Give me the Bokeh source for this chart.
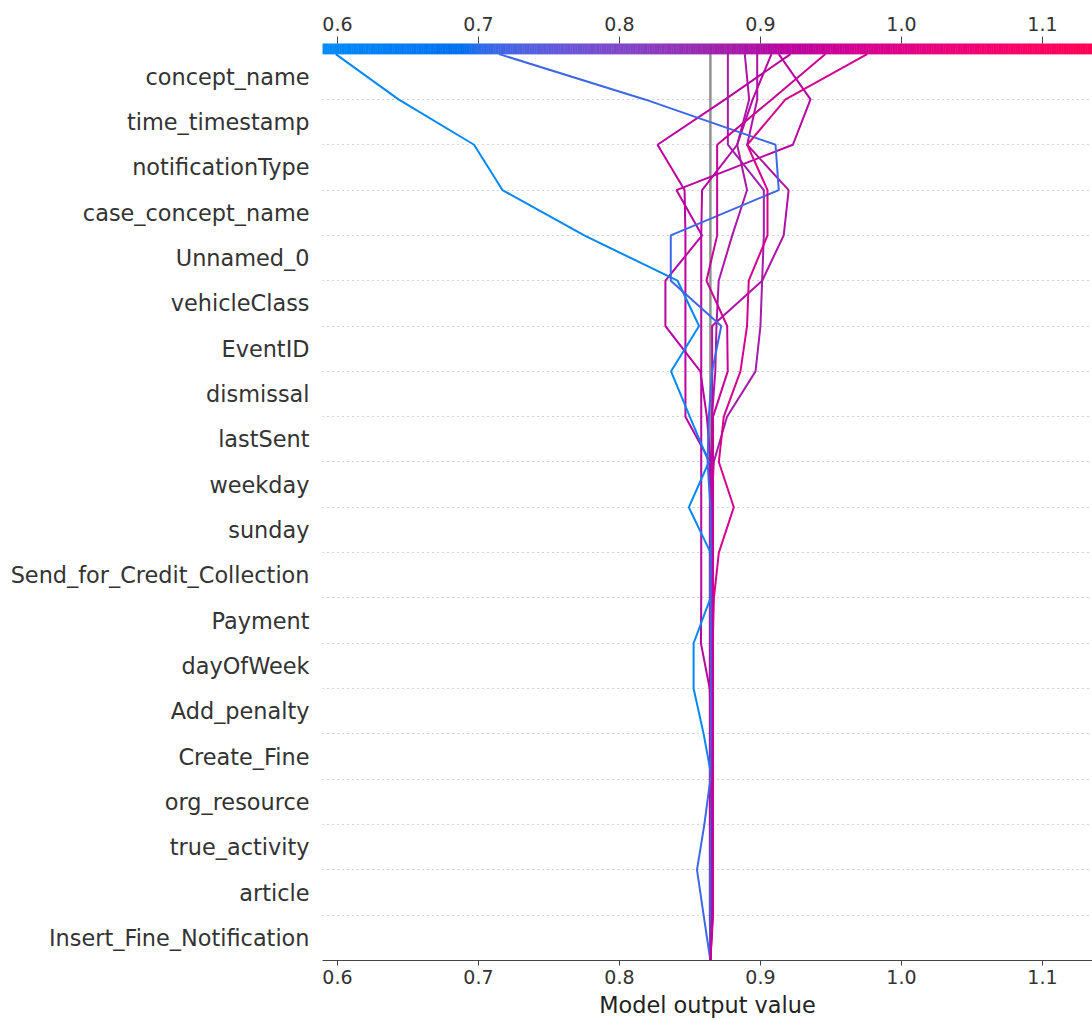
import math
import numpy as np
from bokeh.plotting import figure
from bokeh.models import Range1d, FixedTicker, LinearAxis, PrintfTickFormatter
from bokeh.embed import file_html
from bokeh.resources import INLINE

# ---------------- data ----------------
# features, listed from top to bottom of the decision plot
features = ["concept_name", "time_timestamp", "notificationType", "case_concept_name",
            "Unnamed_0", "vehicleClass", "EventID", "dismissal", "lastSent", "weekday",
            "sunday", "Send_for_Credit_Collection", "Payment", "dayOfWeek", "Add_penalty",
            "Create_Fine", "org_resource", "true_activity", "article", "Insert_Fine_Notification"]

base_value = 0.8645
x_ticks = [0.6, 0.7, 0.8, 0.9, 1.0, 1.1]
x_min, x_max = 0.5894, 1.1355         # visible axis range
color_low, color_high = 0.5894, 1.138  # colour-scale limits

# cumulative model output of each observation, from the bottom (base value, y=0)
# up through every feature to the final prediction (y=20)
obs_1 = [0.8645, 0.8645, 0.8645, 0.8648, 0.8656, 0.8597, 0.8526, 0.8526, 0.8646, 0.8646, 0.8492,
         0.8634, 0.8499, 0.8366, 0.8565, 0.8412, 0.7750, 0.7170, 0.6969, 0.6433, 0.5988]
obs_2 = [0.8645, 0.8597, 0.8550, 0.8602, 0.8645, 0.8648, 0.8650, 0.8648, 0.8646, 0.8648, 0.8645,
         0.8625, 0.8634, 0.8657, 0.8722, 0.8364, 0.8364, 0.9130, 0.9107, 0.8180, 0.7147]
obs_3 = [0.8645, 0.8641, 0.8641, 0.8641, 0.8641, 0.8641, 0.8641, 0.8641, 0.8641, 0.8641, 0.8641,
         0.8643, 0.8468, 0.8468, 0.8468, 0.8468, 0.8468, 0.8462, 0.8270, 0.8750, 0.9213]
obs_4 = [0.8645, 0.8646, 0.8646, 0.8646, 0.8646, 0.8646, 0.8646, 0.8646, 0.8646, 0.8646, 0.8646,
         0.8646, 0.8620, 0.8574, 0.8326, 0.8326, 0.8586, 0.8404, 0.9230, 0.9355, 0.9130]
obs_5 = [0.8645, 0.8649, 0.8649, 0.8649, 0.8649, 0.8649, 0.8640, 0.8578, 0.8580, 0.8580, 0.8580,
         0.8580, 0.8580, 0.8580, 0.8580, 0.8580, 0.8580, 0.8586, 0.8835, 0.8945, 0.9078]
obs_6 = [0.8645, 0.8652, 0.8652, 0.8652, 0.8652, 0.8652, 0.8652, 0.8652, 0.8652, 0.8652, 0.8652,
         0.8669, 0.8763, 0.8965, 0.9000, 0.9012, 0.9024, 0.9024, 0.8769, 0.8769, 0.8769]
obs_7 = [0.8645, 0.8655, 0.8655, 0.8655, 0.8655, 0.8655, 0.8655, 0.8655, 0.8655, 0.8655, 0.8655,
         0.8655, 0.8656, 0.8680, 0.8688, 0.8704, 0.8800, 0.8905, 0.8835, 0.8920, 0.8889]
obs_8 = [0.8645, 0.8658, 0.8658, 0.8658, 0.8658, 0.8658, 0.8658, 0.8658, 0.8658, 0.8658, 0.8658,
         0.8658, 0.8658, 0.8658, 0.8657, 0.9012, 0.9165, 0.9200, 0.8906, 0.8977, 0.8977]
obs_9 = [0.8645, 0.8661, 0.8661, 0.8661, 0.8661, 0.8661, 0.8661, 0.8661, 0.8670, 0.8705, 0.8811,
         0.8705, 0.8740, 0.8858, 0.8905, 0.8917, 0.9050, 0.9050, 0.8906, 0.9178, 0.9757]
obs_10 = [0.8645, 0.8664, 0.8664, 0.8664, 0.8664, 0.8664, 0.8664, 0.8664, 0.8664, 0.8664, 0.8664,
          0.8664, 0.8664, 0.8768, 0.8764, 0.8617, 0.8693, 0.8693, 0.8693, 0.9080, 0.9461]

observations = [obs_3, obs_4, obs_5, obs_6, obs_1, obs_7, obs_8, obs_2, obs_9, obs_10]

# ---------------- SHAP red-blue colour map (LCh interpolation) ----------------
def lch_to_rgb(L, C, h):
    a = C * math.cos(h)
    b = C * math.sin(h)
    fy = (L + 16) / 116
    fx = fy + a / 500
    fz = fy - b / 200

    def finv(t):
        return t ** 3 if t > 6 / 29 else 3 * (6 / 29) ** 2 * (t - 4 / 29)

    X = 0.95047 * finv(fx)
    Y = 1.0 * finv(fy)
    Z = 1.08883 * finv(fz)
    r = 3.2404542 * X - 1.5371385 * Y - 0.4985314 * Z
    g = -0.9692660 * X + 1.8760108 * Y + 0.0415560 * Z
    bl = 0.0556434 * X - 0.2040259 * Y + 1.0572252 * Z

    def gam(c):
        c = min(max(c, 0.0), 1.0)
        return 12.92 * c if c <= 0.0031308 else 1.055 * c ** (1 / 2.4) - 0.055

    return [gam(r), gam(g), gam(bl)]


nsteps = 100
l_vals = list(np.linspace(54.0, 40.0, nsteps // 2)) + list(np.linspace(40.0, 54.0, nsteps // 2))
c_vals = np.linspace(70.0, 90.0, nsteps)
h_vals = np.linspace(4.6588, 0.35470565 + 2 * np.pi, nsteps)
cmap_rgb = np.array([lch_to_rgb(l, c, h) for l, c, h in zip(l_vals, c_vals, h_vals)])
cmap_pos = np.linspace(0, 1, nsteps)


def cmap(t):
    t = min(max(t, 0.0), 1.0)
    r = np.interp(t, cmap_pos, cmap_rgb[:, 0])
    g = np.interp(t, cmap_pos, cmap_rgb[:, 1])
    b = np.interp(t, cmap_pos, cmap_rgb[:, 2])
    return "#%02x%02x%02x" % (int(round(r * 255)), int(round(g * 255)), int(round(b * 255)))


def value_color(v):
    return cmap((v - color_low) / (color_high - color_low))


# ---------------- figure ----------------
n = len(features)
cb_h = 0.234  # colour bar thickness in row units

FONT = "DejaVu Sans"
p = figure(width=1092, height=1020,
           x_range=Range1d(x_min, x_max), y_range=Range1d(0, n + cb_h),
           output_backend="svg", toolbar_location=None,
           min_border_left=322, min_border_right=0, min_border_top=43, min_border_bottom=0)
p.outline_line_color = None
p.background_fill_color = "white"
p.border_fill_color = "white"

p.xgrid.visible = False
p.ygrid.ticker = FixedTicker(ticks=list(range(1, n)))
p.ygrid.grid_line_color = "#a8a8a8"
p.ygrid.grid_line_dash = "1 4"
p.ygrid.grid_line_width = 1.2

# y axis with feature names
yax = p.yaxis[0]
yax.ticker = FixedTicker(ticks=[i + 0.5 for i in range(n)])
yax.major_label_overrides = {i + 0.5: features[n - 1 - i] for i in range(n)}
yax.axis_line_color = None
yax.major_tick_line_color = None
yax.minor_tick_line_color = None
yax.major_label_text_font = FONT
yax.major_label_text_font_size = "22.4px"
yax.major_label_text_color = "#333333"
yax.major_label_standoff = 7

# bottom x axis
xax = p.xaxis[0]
xax.ticker = FixedTicker(ticks=x_ticks)
xax.formatter = PrintfTickFormatter(format="%.1f")
xax.axis_line_color = "#444444"
xax.axis_line_width = 1.2
xax.major_tick_line_color = "#444444"
xax.major_tick_out = 5
xax.major_tick_in = 0
xax.minor_tick_line_color = None
xax.major_label_text_font = FONT
xax.major_label_text_font_size = "19px"
xax.major_label_text_color = "#333333"
xax.major_label_standoff = 4
xax.axis_label = "Model output value"
xax.axis_label_text_font = FONT
xax.axis_label_text_font_size = "22.4px"
xax.axis_label_text_font_style = "normal"
xax.axis_label_text_color = "#222222"
xax.axis_label_standoff = 5

# top axis (colour bar scale)
top = LinearAxis(ticker=FixedTicker(ticks=x_ticks), formatter=PrintfTickFormatter(format="%.1f"))
top.axis_line_color = None
top.major_tick_line_color = "#444444"
top.major_tick_out = 7
top.major_tick_in = 0
top.minor_tick_line_color = None
top.major_label_text_font = FONT
top.major_label_text_font_size = "19px"
top.major_label_text_color = "#333333"
top.major_label_standoff = 6
p.add_layout(top, "above")

# base value line
p.line([base_value, base_value], [0, n], line_color="#929292", line_width=2.5)

# decision lines
ys = list(range(n + 1))
for obs in observations:
    p.line(obs, ys, line_color=value_color(obs[-1]), line_width=2.0)

# colour bar along the top
nseg = 320
edges = np.linspace(x_min, x_max, nseg + 1)
mids = (edges[:-1] + edges[1:]) / 2
seg_colors = [value_color(m) for m in mids]
p.quad(left=edges[:-1], right=edges[1:], bottom=n, top=n + cb_h,
       fill_color=seg_colors, line_color=seg_colors, line_width=0.6)

open("out.html", "w").write(file_html(p, INLINE))
